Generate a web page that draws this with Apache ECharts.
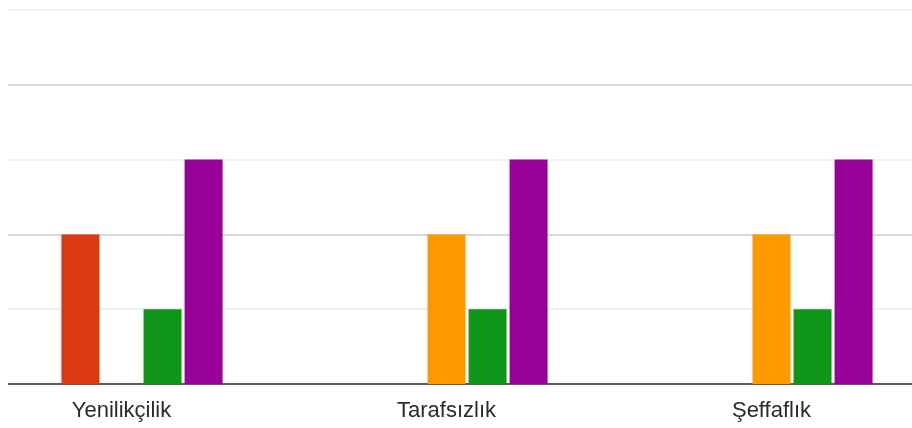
<!DOCTYPE html>
<html>
<head>
<meta charset="utf-8">
<script src="https://cdn.jsdelivr.net/npm/echarts@6/dist/echarts.min.js"></script>
<style>
  html, body { margin: 0; padding: 0; background: #fff; }
  #chart { width: 912px; height: 428px; }
</style>
</head>
<body>
<div id="chart"></div>
<script>
// rows of the grid question
const categories = ['Yenilikçilik', 'Tarafsızlık', 'Şeffaflık']
// answer columns, Google palette order
const seriesNames = ['1', '2', '3', '4', '5']
const seriesColors = ['#3366cc', '#dc3912', '#ff9900', '#109618', '#990099']
const seriesValues = [
  [0, 0, 0],
  [2, 0, 0],
  [0, 2, 2],
  [1, 1, 1],
  [3, 3, 3]
]
const yTicks = [0, 1, 2, 3, 4, 5]

const chart = echarts.init(document.getElementById('chart'))
chart.setOption({
  backgroundColor: '#fff',
  animation: false,
  grid: {
    left: -41,
    top: 10,
    width: 975,
    bottom: 44,
    containLabel: false,
    outerBoundsMode: 'none'
  },
  xAxis: {
    type: 'category',
    data: categories,
    axisTick: { show: false },
    axisLine: {
      lineStyle: { color: '#5a5a5a', width: 2 }
    },
    axisLabel: {
      margin: 16,
      fontSize: 22,
      color: '#2b2b2b',
      fontFamily: 'Liberation Sans, Arial, sans-serif'
    }
  },
  yAxis: {
    type: 'value',
    min: yTicks[0],
    max: yTicks[yTicks.length - 1],
    interval: 1,
    axisLabel: { show: false },
    axisLine: { show: false },
    axisTick: { show: false },
    splitLine: {
      lineStyle: {
        color: ['#cccccc', '#ebebeb'],
        width: 1.5
      }
    }
  },
  graphic: [{
    type: 'rect',
    left: 0,
    top: 0,
    shape: { width: 8, height: 390 },
    style: { fill: '#fff' },
    z: 100
  }],
  series: seriesValues.map((vals, i) => {
    return {
      name: seriesNames[i],
      type: 'bar',
      barWidth: 38,
      barGap: '8%',
      itemStyle: { color: seriesColors[i] },
      data: vals
    }
  })
})
</script>
</body>
</html>
